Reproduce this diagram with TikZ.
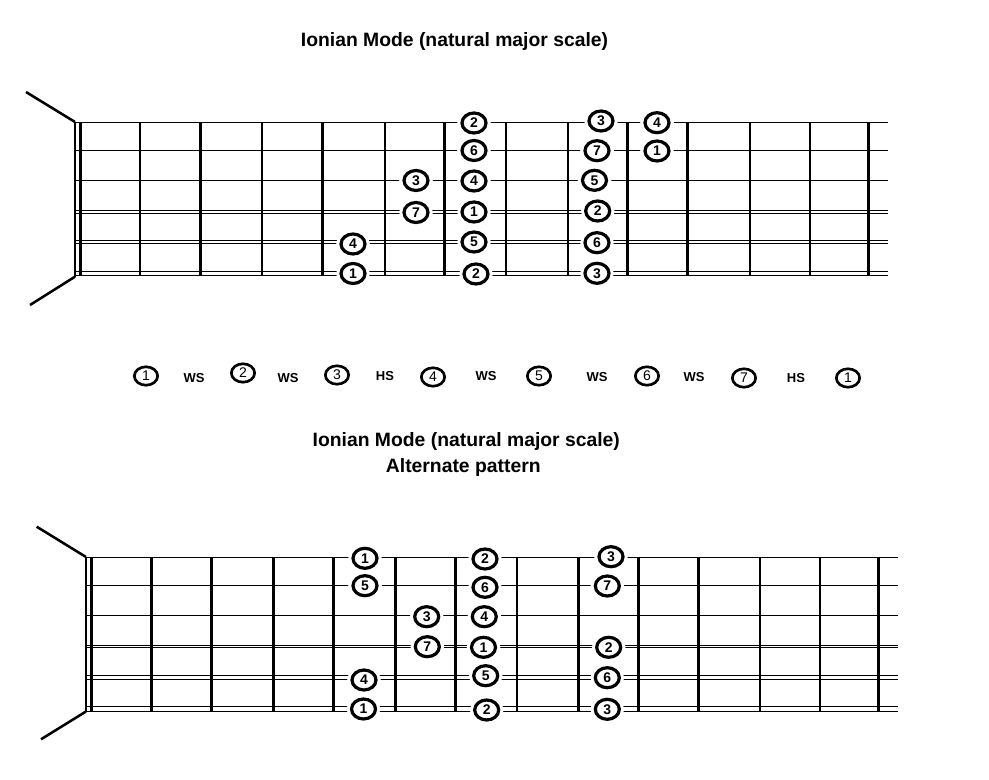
\documentclass[tikz,border=0pt]{standalone}
\usepackage{fontspec}
\setmainfont{Liberation Sans}
\usetikzlibrary{shapes.geometric}

\tikzset{every picture/.style={line width=0.75pt}}
\tikzset{
  fret/.style={line width=2pt},
  nutline/.style={line width=1.9pt},
  headline/.style={line width=1.9pt},
  gstring/.style={line width=0.75pt},
  note/.style={ellipse, draw, line width=2.4pt, fill=white, inner sep=0pt,
    minimum width=18pt, minimum height=15pt,
    font=\fontsize{10.5}{10.5}\selectfont\bfseries,
    preaction={draw=white, line width=7pt}},
  degree/.style={ellipse, draw, line width=2pt, inner sep=0pt,
    minimum width=17.5pt, minimum height=13.8pt,
    font=\fontsize{10.5}{10.5}\selectfont},
  stepname/.style={font=\fontsize{9.75}{9.75}\selectfont\bfseries},
  headtitle/.style={anchor=base, font=\fontsize{14.5}{14.5}\selectfont\bfseries}
}

\begin{document}
\begin{tikzpicture}[x=0.75pt,y=0.75pt,yscale=-1,xscale=1]
        \useasboundingbox (0,0) rectangle (989,780);

        %Text Node
        \node [headtitle] (title1) at (454.5,46.7) {Ionian Mode (natural major scale)};

        %Straight Lines (top headstock)
        \draw [headline]   (26,92) -- (75,122) ;
        \draw [headline]   (30,305) -- (75,276.7) ;
        %Straight Lines (top nut)
        \draw [nutline]   (75,122) -- (75,276.7) ;
        \draw [nutline]   (80.5,122.7) -- (80.5,276) ;
        %Straight Lines (top strings)
        \draw [gstring]   (75,122.7) -- (888,122.7) ;
        \draw [gstring]   (75,150.3) -- (888,150.3) ;
        \draw [gstring]   (75,180.3) -- (888,180.3) ;
        \draw [gstring]   (75,210.7) -- (888,210.7) ;
        \draw [gstring]   (75,213.3) -- (888,213.3) ;
        \draw [gstring]   (75,241) -- (888,241) ;
        \draw [gstring]   (75,244) -- (888,244) ;
        \draw [gstring]   (75,271.7) -- (888,271.7) ;
        \draw [gstring]   (75,276) -- (888,276) ;
        %Straight Lines (top frets)
        \draw [fret]   (140,122.7) -- (140,276) ;
        \draw [fret]   (200.5,122.7) -- (200.5,276) ;
        \draw [fret]   (262,122.7) -- (262,276) ;
        \draw [fret]   (322.5,122.7) -- (322.5,276) ;
        \draw [fret]   (385,122.7) -- (385,276) ;
        \draw [fret]   (444.5,122.7) -- (444.5,276) ;
        \draw [fret]   (506,122.7) -- (506,276) ;
        \draw [fret]   (568,122.7) -- (568,276) ;
        \draw [fret]   (627.5,122.7) -- (627.5,276) ;
        \draw [fret]   (687.5,122.7) -- (687.5,276) ;
        \draw [fret]   (750,122.7) -- (750,276) ;
        \draw [fret]   (810,122.7) -- (810,276) ;
        \draw [fret]   (868.5,122.7) -- (868.5,276) ;

        %Shape: Ellipse (top notes)
        \node [note] (tA5) at (353,244) {4};
        \node [note] (tA6) at (353,273.5) {1};
        \node [note] (tB3) at (416,180.5) {3};
        \node [note] (tB4) at (416,212.5) {7};
        \node [note] (tC1) at (474,123) {2};
        \node [note] (tC2) at (474,150.5) {6};
        \node [note] (tC3) at (474,181) {4};
        \node [note] (tC4) at (474,212) {1};
        \node [note] (tC5) at (474,242) {5};
        \node [note] (tC6) at (476,274) {2};
        \node [note] (tD1) at (601,121) {3};
        \node [note] (tD2) at (597,150.7) {7};
        \node [note] (tD3) at (594.5,180.3) {5};
        \node [note] (tD4) at (597.7,211) {2};
        \node [note] (tD5) at (597,242.7) {6};
        \node [note] (tD6) at (597,273.3) {3};
        \node [note] (tE1) at (657,122.7) {4};
        \node [note] (tE2) at (657,151) {1};

        %Shape: Ellipse (scale degrees)
        \node [degree] (deg1) at (146,376) {1};
        \node [stepname] (stp1) at (194,378) {WS};
        \node [degree] (deg2) at (243,373) {2};
        \node [stepname] (stp2) at (288,378) {WS};
        \node [degree] (deg3) at (337,375) {3};
        \node [stepname] (stp3) at (385,376) {HS};
        \node [degree] (deg4) at (433,377) {4};
        \node [stepname] (stp4) at (486,376) {WS};
        \node [degree] (deg5) at (539,376) {5};
        \node [stepname] (stp5) at (597,377) {WS};
        \node [degree] (deg6) at (647,376) {6};
        \node [stepname] (stp6) at (694,377) {WS};
        \node [degree] (deg7) at (744,378) {7};
        \node [stepname] (stp7) at (796,378) {HS};
        \node [degree] (deg8) at (848,378) {1};

        %Text Node
        \node [headtitle] (title2) at (466.3,446.7) {Ionian Mode (natural major scale)};
        \node [headtitle] (title3) at (463.3,472.7) {Alternate pattern};

        %Straight Lines (bottom headstock)
        \draw [headline]   (36.7,526.7) -- (86,557) ;
        \draw [headline]   (41,739.3) -- (86,711.5) ;
        %Straight Lines (bottom nut)
        \draw [nutline]   (86,557) -- (86,711.5) ;
        \draw [nutline]   (91.5,557.7) -- (91.5,711) ;
        %Straight Lines (bottom strings)
        \draw [gstring]   (86,557.7) -- (898,557.7) ;
        \draw [gstring]   (86,585.7) -- (898,585.7) ;
        \draw [gstring]   (86,615.7) -- (898,615.7) ;
        \draw [gstring]   (86,645) -- (898,645) ;
        \draw [gstring]   (86,647.7) -- (898,647.7) ;
        \draw [gstring]   (86,675.7) -- (898,675.7) ;
        \draw [gstring]   (86,679) -- (898,679) ;
        \draw [gstring]   (86,706.7) -- (898,706.7) ;
        \draw [gstring]   (86,711) -- (898,711) ;
        %Straight Lines (bottom frets)
        \draw [fret]   (151.5,557.7) -- (151.5,711) ;
        \draw [fret]   (211.5,557.7) -- (211.5,711) ;
        \draw [fret]   (273.5,557.7) -- (273.5,711) ;
        \draw [fret]   (333.5,557.7) -- (333.5,711) ;
        \draw [fret]   (395.5,557.7) -- (395.5,711) ;
        \draw [fret]   (455.5,557.7) -- (455.5,711) ;
        \draw [fret]   (517,557.7) -- (517,711) ;
        \draw [fret]   (578.5,557.7) -- (578.5,711) ;
        \draw [fret]   (638.5,557.7) -- (638.5,711) ;
        \draw [fret]   (698.5,557.7) -- (698.5,711) ;
        \draw [fret]   (760,557.7) -- (760,711) ;
        \draw [fret]   (820,557.7) -- (820,711) ;
        \draw [fret]   (878.5,557.7) -- (878.5,711) ;

        %Shape: Ellipse (bottom notes)
        \node [note] (bA1) at (365,558.3) {1};
        \node [note] (bA2) at (365,585.7) {5};
        \node [note] (bA5) at (364,680) {4};
        \node [note] (bA6) at (363.5,709) {1};
        \node [note] (bB3) at (426.7,616.7) {3};
        \node [note] (bB4) at (427.3,646.7) {7};
        \node [note] (bC1) at (485,559) {2};
        \node [note] (bC2) at (485,587.3) {6};
        \node [note] (bC3) at (484.3,616.7) {4};
        \node [note] (bC4) at (483.5,647.3) {1};
        \node [note] (bC5) at (485.7,675.7) {5};
        \node [note] (bC6) at (486.7,710) {2};
        \node [note] (bD1) at (611,556.7) {3};
        \node [note] (bD2) at (607.3,586) {7};
        \node [note] (bD4) at (608.7,647.3) {2};
        \node [note] (bD5) at (607.3,677.7) {6};
        \node [note] (bD6) at (607.3,709.3) {3};
\end{tikzpicture}
\end{document}
